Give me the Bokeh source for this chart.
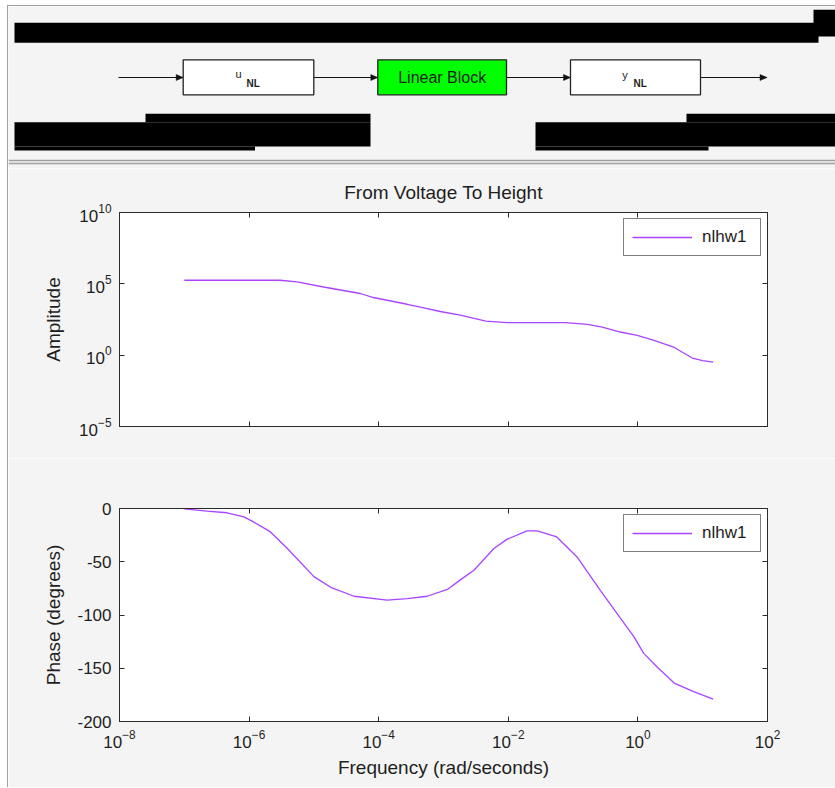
import numpy as np
from bokeh.plotting import figure
from bokeh.layouts import column
from bokeh.models import (Range1d, FixedTicker, LogAxis, LinearAxis,
                          CustomJSTickFormatter)
from bokeh.core.properties import value
from bokeh.embed import file_html
from bokeh.resources import INLINE

# ---------------- data ----------------
amp_freq = [1.0e-7, 3.16e-7, 1.0e-6, 3.0e-6, 5.5e-6, 1.41e-5, 5.2e-5, 8.3e-5,
            2.75e-4, 4.4e-4, 8.9e-4, 1.82e-3, 4.5e-3, 9.5e-3, 3.16e-2, 7.6e-2,
            0.166, 0.282, 0.537, 0.977, 1.78, 3.55, 6.9, 10.0, 14.5]
amp_mag = [1.78e5, 1.78e5, 1.78e5, 1.78e5, 1.35e5, 6.0e4, 2.1e4, 1.1e4,
           3.7e3, 2.3e3, 1.15e3, 630, 245, 190, 190, 190,
           145, 93, 42, 24.5, 11, 3.7, 0.63, 0.42, 0.33]

phase_freq = [1.0e-7, 2.24e-7, 4.57e-7, 8.3e-7, 1.17e-6, 2.14e-6, 3.9e-6, 1.0e-5,
              1.82e-5, 4.17e-5, 1.35e-4, 2.75e-4, 5.6e-4, 1.15e-3, 1.82e-3, 2.95e-3,
              6.0e-3, 9.5e-3, 1.95e-2, 2.8e-2, 5.6e-2, 0.115, 0.263, 0.537,
              0.87, 1.23, 2.0, 3.63, 7.24, 14.5]
phase_deg = [-0.3, -2.5, -4, -7.9, -12.6, -22, -37.6, -64,
             -74, -82.4, -86, -84.6, -82.4, -76, -67, -58,
             -37.6, -29, -21, -21, -26.7, -45.5, -76.8, -103,
             -120.6, -136, -149, -163.9, -172, -179]

x_ticks = [1e-8, 1e-6, 1e-4, 1e-2, 1e0, 1e2]
amp_ticks = [1e-5, 1e0, 1e5, 1e10]
phase_ticks = [-200, -150, -100, -50, 0]

series_name = "nlhw1"
title_text = "From Voltage To Height"
block_labels = ["u", "Linear Block", "y"]
sub_label = "NL"

# ---------------- styles ----------------
BG = "#f4f4f4"
AX = "#2b2b2b"
TXT = "#1e1e1e"
LINE = "#a945ff"
GRAY = "#a0a0a0"
FONT = "Liberation Sans"
W = 827

# ---------------- top block-diagram panel (page pixel coordinates) ----------------
diag = figure(width=W, height=162, x_range=Range1d(8, 835), y_range=Range1d(168, 6),
              output_backend="svg", toolbar_location=None,
              min_border=0, min_border_left=0, min_border_right=0,
              min_border_top=0, min_border_bottom=0,
              background_fill_color=BG, border_fill_color=BG,
              outline_line_color=None)
diag.axis.visible = False
diag.grid.visible = False

# redaction bars
bars_l = [14, 813, 14, 145, 14, 535, 686, 535]
bars_r = [818, 835, 370, 370, 254.5, 835, 835, 708]
bars_t = [22.3, 9.3, 121.7, 113.3, 146, 121.7, 113.3, 146]
bars_b = [42.3, 36, 146, 121.7, 150, 146, 121.7, 150]
diag.quad(left=bars_l, right=bars_r, top=bars_t, bottom=bars_b,
          fill_color="black", line_color=None)

# separator lines
diag.segment(x0=[8, 8], x1=[835, 835], y0=[160, 163], y1=[160, 163],
             line_color=GRAY, line_width=1.5)

# signal line and boxes
y_mid = 77
box_l = [182.7, 377.3, 570]
box_r = [313.3, 506, 700]
box_fill = ["white", "#00ff00", "white"]
seg_x0 = [118, 313.3, 506, 700]
seg_x1 = [182.7, 377.3, 570, 766.5]
diag.segment(x0=seg_x0, x1=seg_x1, y0=[y_mid] * 4, y1=[y_mid] * 4,
             line_color="#111111", line_width=1.2)
tips = seg_x1
diag.patches(xs=[[t - 7, t, t - 7] for t in tips],
             ys=[[y_mid - 3, y_mid, y_mid + 3] for _ in tips],
             fill_color="#111111", line_color="#111111", line_width=0.5)
diag.quad(left=box_l, right=box_r, top=[59.3] * 3, bottom=[94.3] * 3,
          fill_color=box_fill, line_color="#222222", line_width=1.3)

diag.text(x=[235, 621.7], y=[73.5, 74.5], text=[block_labels[0], block_labels[2]],
          text_font=value(FONT), text_font_size="11px", text_color=TXT,
          text_baseline="middle", text_align="left")
diag.text(x=[246, 633], y=[82.5, 83.3], text=[sub_label, sub_label],
          text_font=value(FONT), text_font_size="10px", text_font_style="bold",
          text_color=TXT, text_baseline="middle", text_align="left")
diag.text(x=[441.7], y=[77], text=[block_labels[1]],
          text_font=value(FONT), text_font_size="16px", text_color=TXT,
          text_baseline="middle", text_align="center")

# ---------------- helpers ----------------
blank = CustomJSTickFormatter(code="return ''")
plain = CustomJSTickFormatter(code="return tick.toFixed(0)")


def style_axis(ax, ticks, labels=True):
    ax.ticker = FixedTicker(ticks=ticks)
    ax.axis_line_color = AX
    ax.axis_line_width = 1
    ax.major_tick_line_color = AX
    ax.major_tick_in = 5
    ax.major_tick_out = 0
    ax.minor_tick_line_color = None
    ax.major_label_text_font = FONT
    ax.major_label_text_font_size = "17px"
    ax.major_label_text_color = TXT
    ax.major_label_standoff = 8
    ax.axis_label_text_font = FONT
    ax.axis_label_text_font_size = "19px"
    ax.axis_label_text_font_style = "normal"
    ax.axis_label_text_color = TXT
    if not labels:
        ax.formatter = blank
        ax.major_label_standoff = 0


def make_plot(height, top, bottom, y_type, y_range, y_ticks, x_labels):
    p = figure(width=W, height=height, x_axis_type="log", y_axis_type=y_type,
               x_range=Range1d(1e-8, 1e2), y_range=y_range,
               output_backend="svg", toolbar_location=None,
               min_border_left=111, min_border_right=68,
               min_border_top=top, min_border_bottom=bottom,
               background_fill_color="white", border_fill_color=BG,
               outline_line_color=AX, outline_line_width=1)
    p.grid.visible = False
    xax = p.xaxis[0]
    yax = p.yaxis[0]
    style_axis(xax, x_ticks, labels=x_labels)
    style_axis(yax, y_ticks)
    AxisCls = LogAxis if y_type == "log" else LinearAxis
    right = AxisCls()
    style_axis(right, y_ticks, labels=False)
    p.add_layout(right, "right")
    above = LogAxis()
    style_axis(above, x_ticks, labels=False)
    p.add_layout(above, "above")
    return p, xax, yax


def style_legend(p):
    lg = p.legend[0]
    lg.location = "top_right"
    lg.margin = 6
    lg.padding = 8
    lg.glyph_width = 60
    lg.glyph_height = 20
    lg.label_standoff = 10
    lg.label_width = 50
    lg.label_text_font = FONT
    lg.label_text_font_size = "17px"
    lg.label_text_color = TXT
    lg.border_line_color = "black"
    lg.border_line_width = 1
    lg.background_fill_color = "white"
    lg.background_fill_alpha = 1


# ---------------- amplitude plot ----------------
p1, x1, y1 = make_plot(290, 44, 32, "log", Range1d(1e-5, 1e10), amp_ticks, False)
p1.line(amp_freq, amp_mag, line_color=LINE, line_width=1.3, legend_label=series_name)
y1.axis_label = "Amplitude"
y1.axis_label_standoff = 12
style_legend(p1)
p1.title.text = title_text
p1.title.align = "center"
p1.title.text_font = FONT
p1.title.text_font_size = "19px"
p1.title.text_font_style = "normal"
p1.title.text_color = TXT
p1.title.standoff = 19

# ---------------- phase plot ----------------
p2, x2, y2 = make_plot(329, 50, 66, "linear", Range1d(-200, 0), phase_ticks, True)
p2.line(phase_freq, phase_deg, line_color=LINE, line_width=1.3, legend_label=series_name)
y2.formatter = plain
y2.axis_label = "Phase (degrees)"
y2.axis_label_standoff = 10
x2.axis_label = "Frequency (rad/seconds)"
x2.axis_label_standoff = 6
style_legend(p2)

layout = column(column(diag), column(p1, p2, spacing=0), spacing=0,
                styles={"margin-left": "7px", "margin-top": "5px",
                        "border-left": f"1px solid {GRAY}", "border-top": f"1px solid {GRAY}"})

with open("out.html", "w") as f:
    f.write(file_html(layout, INLINE, title="From Voltage To Height"))
